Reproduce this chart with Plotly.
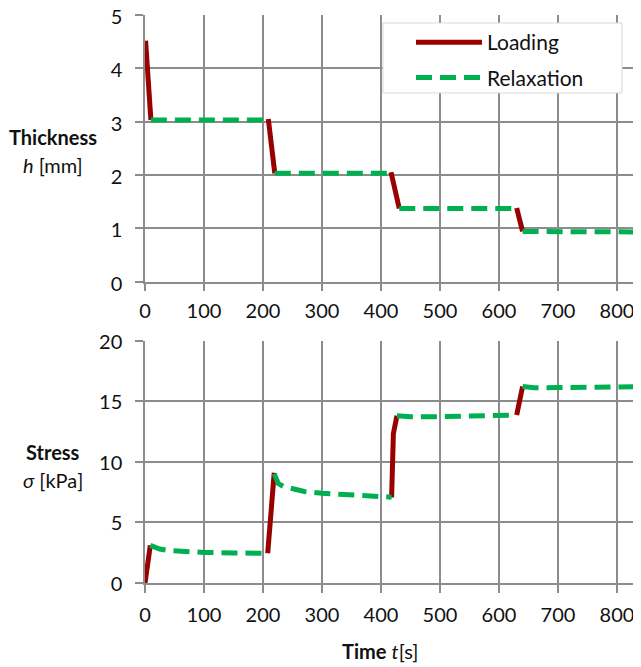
import plotly.graph_objects as go

# ---- data ----
t_load_h = [1, 10, None, 209, 220, None, 417, 431, None, 630, 640]
h_load = [4.52, 3.03, None, 3.05, 2.03, None, 2.05, 1.37, None, 1.38, 0.94]

t_relax_h = [10, 210, None, 220, 418, None, 431, 630, None, 640, 845]
h_relax = [3.03, 3.03, None, 2.03, 2.03, None, 1.37, 1.37, None, 0.94, 0.93]

t_load_s = [0, 9, None, 208, 219, None, 418, 421, 427, None, 630, 640]
s_load = [0.0, 3.1, None, 2.45, 9.1, None, 7.05, 12.3, 13.8, None, 13.85, 16.2]

t_relax_s = [9, 15, 25, 40, 60, 100, 150, 208, None,
             219, 222, 226, 235, 250, 270, 300, 330, 360, 390, 418, None,
             427, 450, 500, 550, 600, 630, None,
             640, 660, 700, 750, 800, 845]
s_relax = [3.1, 2.95, 2.8, 2.68, 2.6, 2.52, 2.48, 2.45, None,
           9.0, 8.6, 8.2, 7.95, 7.75, 7.55, 7.4, 7.3, 7.22, 7.15, 7.08, None,
           13.8, 13.72, 13.72, 13.75, 13.8, 13.85, None,
           16.2, 16.1, 16.12, 16.15, 16.18, 16.2]

x_ticks = [0, 100, 200, 300, 400, 500, 600, 700, 800]
h_ticks = [0, 1, 2, 3, 4, 5]
s_ticks = [0, 5, 10, 15, 20]

RED = "#990000"
GREEN = "#00B050"
GRID = "#8C8C8C"
FONT = "Lato"
DASH = "16px,8px"

fig = go.Figure()
fig.add_trace(go.Scatter(x=t_load_h, y=h_load, mode="lines", name="Loading",
                         line=dict(color=RED, width=5), legendgroup="a",
                         xaxis="x", yaxis="y"))
fig.add_trace(go.Scatter(x=t_relax_h, y=h_relax, mode="lines", name="Relaxation",
                         line=dict(color=GREEN, width=5, dash=DASH), legendgroup="b",
                         xaxis="x", yaxis="y"))
fig.add_trace(go.Scatter(x=t_load_s, y=s_load, mode="lines", name="Loading",
                         line=dict(color=RED, width=5), showlegend=False,
                         xaxis="x2", yaxis="y2"))
fig.add_trace(go.Scatter(x=t_relax_s, y=s_relax, mode="lines", name="Relaxation",
                         line=dict(color=GREEN, width=5, dash=DASH), showlegend=False,
                         xaxis="x2", yaxis="y2"))

ax_common = dict(showgrid=True, gridcolor=GRID, gridwidth=1.5,
                 showline=True, linecolor=GRID, linewidth=1.5,
                 ticks="outside", ticklen=8, tickcolor=GRID, tickwidth=1.5,
                 tickfont=dict(family=FONT, size=20, color="#111111"),
                 ticklabeloverflow="allow",
                 zeroline=False, fixedrange=True, automargin=False)

OFF = 8  # page body offset
W, H = 641 - OFF, 667 - OFF
ML, MR, MT = 145 - OFF, 0, 15 - OFF
MB = H - (583.3 - OFF)
ph = H - MT - MB
pw = W - ML - MR

def px_x(px):
    return (px - OFF - ML) / pw

def px_y(px):
    return 1 - (px - OFF - MT) / ph

fig.update_layout(
    width=W, height=H,
    margin=dict(l=ML, r=MR, t=MT, b=MB, autoexpand=False),
    paper_bgcolor="white", plot_bgcolor="white",
    xaxis=dict(range=[0, 840.7], tickvals=x_ticks, anchor="y", ticklabelstandoff=3, **ax_common),
    yaxis=dict(range=[0, 5], tickvals=h_ticks, domain=[px_y(281.7), 1],
               ticklabelstandoff=9, ticklabelshift=2, **ax_common),
    xaxis2=dict(range=[0, 840.7], tickvals=x_ticks, anchor="y2", ticklabelstandoff=5, **ax_common),
    yaxis2=dict(range=[0, 20], tickvals=s_ticks, domain=[0, px_y(340.7)],
                ticklabelstandoff=9, ticklabelshift=1, **ax_common),
    showlegend=True,
    legend=dict(x=px_x(411), y=px_y(22), xanchor="left", yanchor="top",
                bgcolor="rgba(0,0,0,0)", borderwidth=0,
                font=dict(family=FONT, size=21, color="#111111"),
                itemwidth=66, traceorder="grouped", tracegroupgap=5),
    shapes=[dict(type="rect", xref="paper", yref="paper", layer="above",
                 x0=px_x(383), x1=px_x(622), y0=px_y(93), y1=px_y(23),
                 fillcolor="white", line=dict(color="#D9D9D9", width=1))],
)

def ann(text, xpx, ypx, size=20):
    fig.add_annotation(text=text, xref="paper", yref="paper",
                       x=px_x(xpx), y=px_y(ypx),
                       xanchor="center", yanchor="middle", showarrow=False,
                       font=dict(family=FONT, size=size, color="#111111"))

ann("<b>Thickness</b>", 53, 137)
ann("<i>h</i> [mm]", 53, 165)
ann("<b>Stress</b>", 53, 452)
ann("<i>σ</i> [kPa]", 53, 480)
ann("<b>Time</b> <i>t</i>[s]", 380, 651)

fig.write_html("out.html")
